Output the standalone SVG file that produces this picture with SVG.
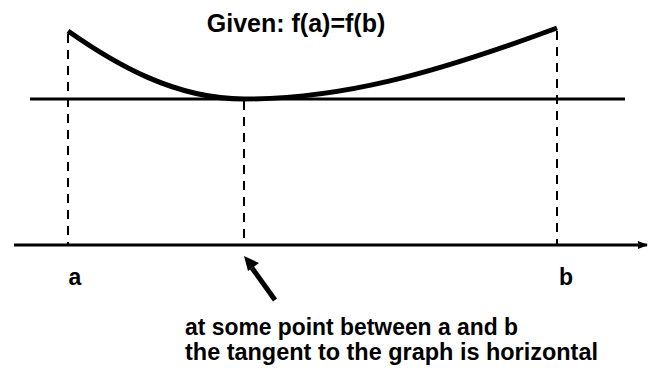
<svg xmlns="http://www.w3.org/2000/svg" width="648" height="371" viewBox="0 0 648 371">
<style>
.t{font-family:"Liberation Sans",Arial,sans-serif;font-weight:bold;fill:#000}
.dash{stroke:#000;stroke-width:2;stroke-dasharray:9,7;fill:none}
.line{stroke:#000;stroke-width:3;fill:none}
</style>
<defs>
<marker id="ah" markerWidth="10" markerHeight="10" refX="9" refY="5" orient="auto" markerUnits="userSpaceOnUse">
<path d="M0,1 L10,5 L0,9 z" fill="#000"/>
</marker>
</defs>
<rect width="648" height="371" fill="#fff"/>
<g id="connectors">
<line class="dash" x1="68" y1="34" x2="68" y2="244"/>
<line class="dash" x1="244" y1="101" x2="244" y2="244"/>
<line class="dash" x1="557" y1="31" x2="557" y2="244"/>
<line class="line" x1="30" y1="99" x2="625" y2="99"/>
<line class="line" x1="14" y1="245" x2="647" y2="245" marker-end="url(#ah)"/>
<line stroke="#000" stroke-width="5" x1="275" y1="300" x2="252" y2="268"/>
<path d="M244,256 L259,263 L248,271 z" fill="#000"/>
</g>
<g id="curve">
<path d="M68,31 C115,64 175,99 244,99 C340,99 430,75 557,28" fill="none" stroke="#000" stroke-width="5"/>
</g>
<g id="title"><text class="t" x="296" y="32" font-size="25" text-anchor="middle">Given: f(a)=f(b)</text></g>
<g id="label-a"><text class="t" x="75" y="285" font-size="23" text-anchor="middle">a</text></g>
<g id="label-b"><text class="t" x="566" y="285" font-size="23" text-anchor="middle">b</text></g>
<g id="note">
<text class="t" x="185" y="335" font-size="23" textLength="333" lengthAdjust="spacingAndGlyphs">at some point between a and b</text>
<text class="t" x="185" y="360" font-size="23" textLength="413" lengthAdjust="spacingAndGlyphs">the tangent to the graph is horizontal</text>
</g>
</svg>
